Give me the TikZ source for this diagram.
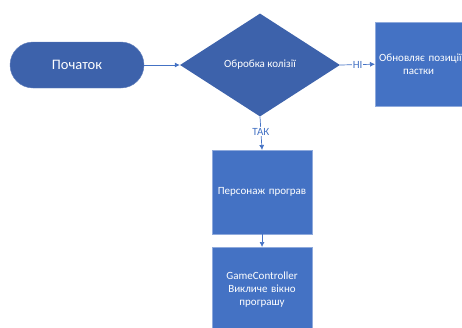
\documentclass[tikz,border=0pt]{standalone}
\usepackage{fontspec}
\setmainfont{Carlito}
\usetikzlibrary{shapes.geometric,arrows.meta}
\definecolor{darkblue}{HTML}{3D62AB}
\definecolor{boxblue}{HTML}{4472C4}
\definecolor{boxline}{HTML}{8FAADC}
\tikzset{
  startnode/.style={fill=darkblue, draw=darkblue!80!white, rounded corners=23pt, minimum width=134pt, minimum height=46pt, text=white, font=\fontsize{14.5}{16}\selectfont},
  decision/.style={diamond, fill=darkblue, minimum width=160pt, minimum height=103pt, inner sep=0pt, text=white, font=\fontsize{11}{13}\selectfont},
  procbox/.style={rectangle, fill=boxblue, draw=boxline, line width=0.4pt, minimum width=97pt, minimum height=84pt, text width=93pt, align=center, text=white, font=\fontsize{11}{13}\selectfont},
  flowline/.style={draw=boxblue, line width=0.7pt, -{Latex[length=5pt,width=5pt]}},
  branch/.style={fill=white, text=boxblue, inner sep=1pt, font=\fontsize{11}{13}\selectfont}
}
\begin{document}
\begin{tikzpicture}[x=1pt,y=-1pt]
		% frame of the reference
		\useasboundingbox (0,0) rectangle (462,327);
		\clip (0,0) rectangle (462,327);
		
		\node[startnode] (start) at (77,65) {Початок};
		\node[decision] (collide) at (260,65) {Обробка колізії};
		\node[procbox, anchor=north west, text width=89pt, align=left] (trap) at (375,22) {Обновляє позиції\\\hspace*{24pt}пастки};
		\node[procbox, anchor=north west] (lose) at (212,150) {Персонаж програв};
		\node[procbox, anchor=north west] (ctrl) at (212,247) {GameController Викличе вікно програшу};
		
		\draw[flowline] (start.east) -- (collide.west);
		\draw[flowline] (collide.east) -- node[branch] {НІ} (trap.west);
		\draw[flowline] (collide.south) -- node[branch, pos=0.45] {ТАК} (lose.north);
		\draw[flowline] (lose.south) -- (ctrl.north);
\end{tikzpicture}
\end{document}
